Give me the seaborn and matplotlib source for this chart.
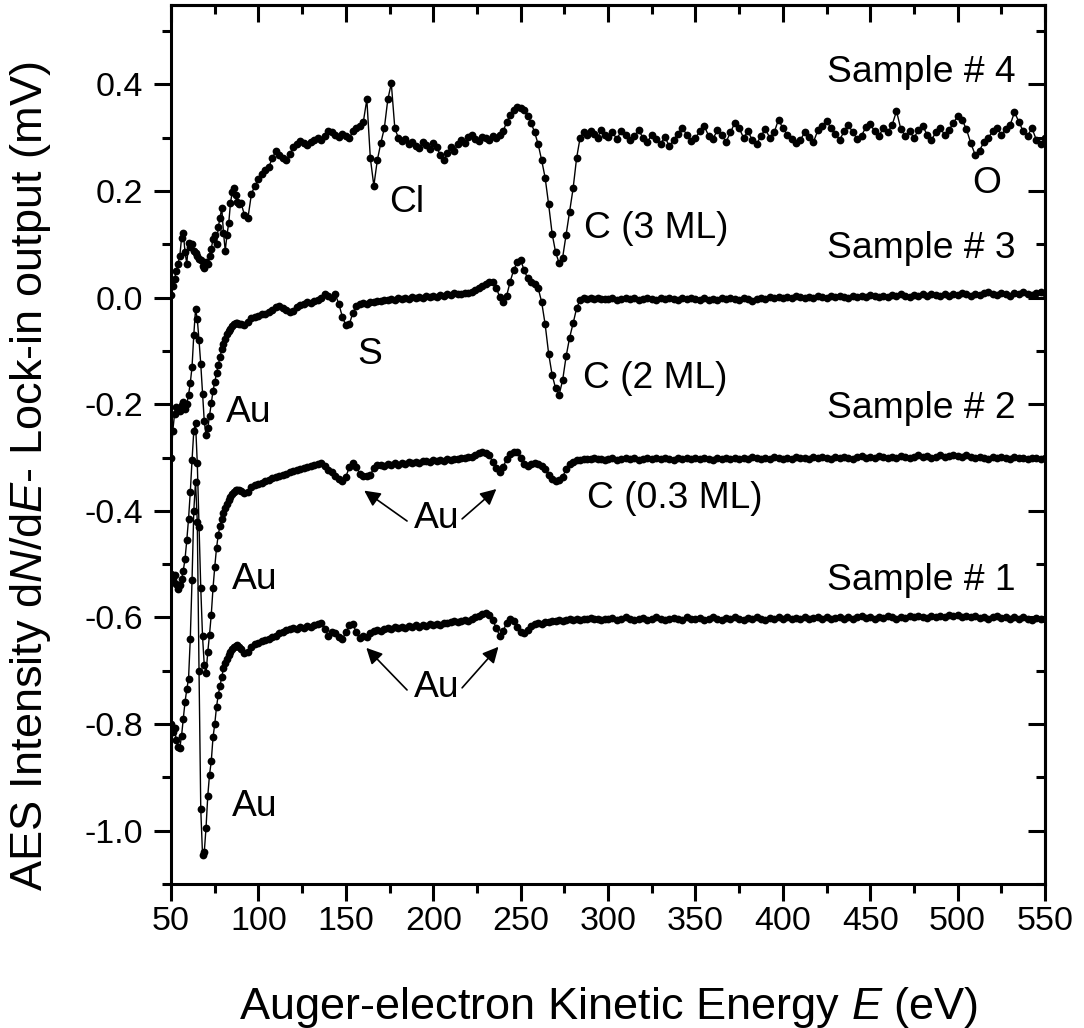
import matplotlib
matplotlib.use('Agg')

import numpy as np
import matplotlib.pyplot as plt
import seaborn as sns
from matplotlib.ticker import MultipleLocator, FormatStrFormatter

# energy grid of the four AES spectra (eV): 1 eV steps below 90, 2 eV to 300, 2.5 eV to 550
energy = np.concatenate([np.arange(50, 90, 1.0), np.arange(90, 300, 2.0), np.arange(300, 550.1, 2.5)])

sample1 = [
    # 50 - 89
    -0.800, -0.815, -0.808, -0.830, -0.843, -0.845, -0.822, -0.790, -0.758, -0.735,
    -0.715, -0.640, -0.530, -0.400, -0.345, -0.420, -0.700, -0.960, -1.045, -1.040,
    -0.995, -0.935, -0.895, -0.870, -0.825, -0.800, -0.768, -0.745, -0.728, -0.712,
    -0.695, -0.686, -0.678, -0.670, -0.665, -0.660, -0.656, -0.653, -0.652, -0.656,
    # 90 - 298
    -0.660, -0.667, -0.665, -0.655, -0.650, -0.648, -0.645, -0.642, -0.640, -0.636,
    -0.634, -0.630, -0.628, -0.624, -0.622, -0.620, -0.622, -0.618, -0.620, -0.616,
    -0.617, -0.614, -0.612, -0.610, -0.622, -0.634, -0.628, -0.630, -0.636, -0.640,
    -0.628, -0.615, -0.612, -0.628, -0.638, -0.634, -0.637, -0.630, -0.626, -0.624,
    -0.625, -0.622, -0.620, -0.621, -0.618, -0.620, -0.617, -0.619, -0.616, -0.618,
    -0.615, -0.617, -0.614, -0.616, -0.613, -0.615, -0.612, -0.614, -0.611, -0.610,
    -0.608, -0.607, -0.609, -0.606, -0.605, -0.607, -0.603, -0.600, -0.598, -0.594,
    -0.592, -0.596, -0.604, -0.620, -0.634, -0.625, -0.610, -0.602, -0.606, -0.618,
    -0.628, -0.630, -0.624, -0.616, -0.612, -0.610, -0.612, -0.609, -0.608, -0.606,
    -0.607, -0.605, -0.606, -0.604, -0.603, -0.604, -0.602, -0.604, -0.602, -0.603,
    -0.601, -0.603, -0.602, -0.604, -0.602,
    # 300 - 550
    -0.603, -0.601, -0.604, -0.602, -0.600, -0.603, -0.605, -0.602, -0.601, -0.604,
    -0.603, -0.600, -0.602, -0.605, -0.603, -0.601, -0.602, -0.604, -0.600, -0.602,
    -0.603, -0.601, -0.604, -0.602, -0.600, -0.602, -0.604, -0.601, -0.603, -0.600,
    -0.602, -0.604, -0.601, -0.603, -0.600, -0.602, -0.604, -0.601, -0.603, -0.600,
    -0.602, -0.599, -0.603, -0.601, -0.602, -0.600, -0.603, -0.601, -0.599, -0.602,
    -0.600, -0.603, -0.601, -0.599, -0.602, -0.600, -0.603, -0.600, -0.598, -0.601,
    -0.600, -0.602, -0.599, -0.601, -0.598, -0.600, -0.602, -0.599, -0.601, -0.598,
    -0.600, -0.597, -0.599, -0.601, -0.598, -0.600, -0.597, -0.599, -0.596, -0.598,
    -0.596, -0.599, -0.597, -0.600, -0.598, -0.601, -0.599, -0.602, -0.600, -0.598,
    -0.601, -0.599, -0.602, -0.600, -0.603, -0.600, -0.602, -0.604, -0.601, -0.603,
    -0.602,
]

sample2 = [
    # 50 - 89
    -0.518, -0.530, -0.520, -0.538, -0.546, -0.540, -0.528, -0.512, -0.490, -0.455,
    -0.415, -0.365, -0.305, -0.250, -0.235, -0.310, -0.430, -0.545, -0.635, -0.690,
    -0.705, -0.665, -0.632, -0.595, -0.545, -0.505, -0.470, -0.445, -0.428, -0.415,
    -0.404, -0.395, -0.388, -0.380, -0.374, -0.368, -0.364, -0.361, -0.360, -0.361,
    # 90 - 298
    -0.362, -0.366, -0.364, -0.356, -0.352, -0.350, -0.347, -0.344, -0.342, -0.339,
    -0.337, -0.334, -0.332, -0.330, -0.328, -0.326, -0.323, -0.321, -0.320, -0.318,
    -0.316, -0.314, -0.312, -0.310, -0.316, -0.324, -0.328, -0.334, -0.340, -0.344,
    -0.336, -0.318, -0.311, -0.318, -0.330, -0.334, -0.334, -0.332, -0.320, -0.314,
    -0.313, -0.315, -0.312, -0.314, -0.311, -0.313, -0.310, -0.312, -0.309, -0.311,
    -0.308, -0.310, -0.307, -0.306, -0.308, -0.305, -0.307, -0.304, -0.306, -0.303,
    -0.305, -0.302, -0.303, -0.300, -0.301, -0.298, -0.299, -0.295, -0.292, -0.290,
    -0.292, -0.296, -0.308, -0.320, -0.328, -0.318, -0.302, -0.294, -0.290, -0.290,
    -0.300, -0.312, -0.316, -0.312, -0.310, -0.312, -0.316, -0.322, -0.332, -0.340,
    -0.344, -0.342, -0.336, -0.322, -0.312, -0.308, -0.305, -0.304, -0.303, -0.302,
    -0.303, -0.301, -0.303, -0.302, -0.304,
    # 300 - 550
    -0.303, -0.301, -0.304, -0.302, -0.300, -0.303, -0.301, -0.304, -0.302, -0.300,
    -0.303, -0.301, -0.303, -0.300, -0.302, -0.304, -0.301, -0.303, -0.300, -0.302,
    -0.301, -0.303, -0.300, -0.302, -0.304, -0.301, -0.303, -0.300, -0.302, -0.301,
    -0.303, -0.300, -0.302, -0.299, -0.301, -0.303, -0.300, -0.302, -0.299, -0.301,
    -0.303, -0.300, -0.302, -0.299, -0.301, -0.300, -0.302, -0.299, -0.301, -0.298,
    -0.300, -0.302, -0.299, -0.301, -0.298, -0.300, -0.302, -0.299, -0.297, -0.300,
    -0.298, -0.300, -0.297, -0.299, -0.301, -0.298, -0.300, -0.297, -0.299, -0.301,
    -0.298, -0.296, -0.299, -0.297, -0.300, -0.298, -0.296, -0.299, -0.297, -0.295,
    -0.297, -0.299, -0.296, -0.298, -0.300, -0.298, -0.300, -0.302, -0.299, -0.301,
    -0.298, -0.300, -0.302, -0.299, -0.301, -0.300, -0.302, -0.300, -0.301, -0.303,
    -0.301,
]

sample3 = [
    # 50 - 89
    -0.300, -0.250, -0.218, -0.205, -0.208, -0.212, -0.202, -0.196, -0.208, -0.200,
    -0.182, -0.160, -0.130, -0.070, -0.022, -0.040, -0.080, -0.125, -0.180, -0.232,
    -0.258, -0.245, -0.222, -0.198, -0.175, -0.158, -0.142, -0.126, -0.112, -0.097,
    -0.086, -0.077, -0.069, -0.063, -0.058, -0.053, -0.049, -0.047, -0.048, -0.050,
    # 90 - 298
    -0.050, -0.052, -0.045, -0.038, -0.036, -0.034, -0.031, -0.030, -0.027, -0.024,
    -0.018, -0.016, -0.020, -0.024, -0.027, -0.025, -0.018, -0.014, -0.012, -0.009,
    -0.010, -0.006, -0.004, 0.000, 0.006, 0.004, 0.000, 0.006, -0.012, -0.036,
    -0.052, -0.050, -0.028, -0.016, -0.012, -0.010, -0.011, -0.008, -0.009, -0.006,
    -0.007, -0.004, -0.005, -0.002, -0.004, -0.001, -0.003, 0.000, -0.002, 0.001,
    -0.001, 0.002, 0.000, 0.003, 0.002, 0.004, 0.002, 0.005, 0.003, 0.006,
    0.005, 0.008, 0.007, 0.006, 0.009, 0.008, 0.010, 0.014, 0.018, 0.022,
    0.026, 0.030, 0.030, 0.018, 0.002, -0.008, 0.004, 0.030, 0.052, 0.066,
    0.070, 0.052, 0.036, 0.030, 0.026, 0.018, -0.008, -0.050, -0.105, -0.145,
    -0.170, -0.182, -0.155, -0.110, -0.075, -0.048, -0.020, -0.004, 0.000, -0.002,
    0.000, -0.003, -0.001, -0.003, -0.002,
    # 300 - 550
    -0.003, -0.001, -0.004, -0.002, 0.000, -0.003, -0.001, -0.004, -0.002, 0.000,
    -0.002, -0.004, -0.001, -0.003, 0.000, -0.002, -0.004, -0.001, -0.003, 0.000,
    -0.002, -0.004, -0.001, -0.005, -0.002, -0.004, -0.001, -0.003, 0.000, -0.002,
    -0.004, -0.001, -0.003, -0.006, -0.002, 0.000, -0.002, 0.001, -0.001, 0.002,
    0.000, 0.002, -0.001, 0.003, 0.001, -0.001, 0.002, 0.000, 0.003, 0.001,
    0.000, 0.003, 0.001, 0.004, 0.002, 0.000, 0.003, 0.001, 0.004, 0.002,
    0.005, 0.003, 0.001, 0.004, 0.002, 0.005, 0.003, 0.006, 0.004, 0.002,
    0.005, 0.003, 0.006, 0.004, 0.007, 0.005, 0.003, 0.006, 0.004, 0.007,
    0.005, 0.008, 0.006, 0.004, 0.007, 0.005, 0.008, 0.010, 0.007, 0.005,
    0.009, 0.006, 0.004, 0.008, 0.006, 0.010, 0.007, 0.005, 0.009, 0.011,
    0.008,
]

sample4 = [
    # 50 - 89
    0.005, 0.022, 0.035, 0.050, 0.064, 0.078, 0.112, 0.122, 0.085, 0.064,
    0.102, 0.096, 0.100, 0.088, 0.084, 0.078, 0.072, 0.070, 0.060, 0.056,
    0.066, 0.064, 0.078, 0.092, 0.110, 0.118, 0.100, 0.132, 0.150, 0.168,
    0.122, 0.088, 0.118, 0.140, 0.178, 0.198, 0.205, 0.192, 0.180, 0.176,
    # 90 - 298
    0.178, 0.155, 0.150, 0.195, 0.210, 0.222, 0.232, 0.240, 0.246, 0.262,
    0.276, 0.268, 0.262, 0.258, 0.270, 0.282, 0.288, 0.294, 0.290, 0.286,
    0.292, 0.295, 0.300, 0.296, 0.304, 0.312, 0.310, 0.306, 0.302, 0.308,
    0.304, 0.300, 0.312, 0.318, 0.322, 0.330, 0.372, 0.262, 0.210, 0.258,
    0.290, 0.318, 0.372, 0.402, 0.318, 0.300, 0.294, 0.298, 0.288, 0.292,
    0.284, 0.280, 0.292, 0.286, 0.278, 0.290, 0.282, 0.268, 0.258, 0.272,
    0.282, 0.276, 0.288, 0.296, 0.290, 0.302, 0.306, 0.298, 0.294, 0.302,
    0.300, 0.296, 0.304, 0.300, 0.306, 0.312, 0.330, 0.342, 0.352, 0.358,
    0.356, 0.352, 0.340, 0.328, 0.310, 0.288, 0.258, 0.225, 0.175, 0.120,
    0.085, 0.065, 0.075, 0.118, 0.160, 0.205, 0.262, 0.300, 0.310, 0.305,
    0.312, 0.308, 0.300, 0.314, 0.306,
    # 300 - 550
    0.302, 0.310, 0.298, 0.312, 0.306, 0.296, 0.304, 0.314, 0.300, 0.292,
    0.306, 0.298, 0.288, 0.302, 0.284, 0.296, 0.308, 0.318, 0.306, 0.294,
    0.300, 0.312, 0.322, 0.304, 0.298, 0.314, 0.306, 0.292, 0.310, 0.328,
    0.318, 0.300, 0.312, 0.296, 0.288, 0.304, 0.316, 0.300, 0.310, 0.334,
    0.318, 0.306, 0.298, 0.290, 0.296, 0.310, 0.302, 0.292, 0.314, 0.322,
    0.332, 0.318, 0.308, 0.296, 0.312, 0.324, 0.310, 0.298, 0.304, 0.320,
    0.326, 0.312, 0.304, 0.318, 0.310, 0.324, 0.350, 0.316, 0.304, 0.312,
    0.300, 0.314, 0.322, 0.306, 0.296, 0.310, 0.318, 0.306, 0.314, 0.328,
    0.340, 0.334, 0.316, 0.290, 0.268, 0.276, 0.292, 0.300, 0.312, 0.318,
    0.306, 0.316, 0.324, 0.348, 0.330, 0.312, 0.304, 0.318, 0.296, 0.288,
    0.300,
]

series = [sample1, sample2, sample3, sample4]
sample_names = ['Sample # 1', 'Sample # 2', 'Sample # 3', 'Sample # 4']
sample_label_y = [-0.531, -0.208, 0.092, 0.422]

sns.set_theme(style='ticks')
plt.rcParams['font.family'] = ['Liberation Sans', 'DejaVu Sans']
plt.rcParams['mathtext.fontset'] = 'custom'
plt.rcParams['mathtext.rm'] = 'Liberation Sans'
plt.rcParams['mathtext.it'] = 'Liberation Sans:italic'
plt.rcParams['axes.unicode_minus'] = False
plt.rcParams['text.color'] = 'black'
plt.rcParams['axes.labelcolor'] = 'black'
plt.rcParams['xtick.color'] = 'black'
plt.rcParams['ytick.color'] = 'black'

fig = plt.figure(figsize=(10.84, 10.28), dpi=100)
ax = fig.add_axes([0.1578, 0.1401, 0.8063, 0.8555])

for ys in series:
    assert len(ys) == len(energy)
    sns.lineplot(x=energy, y=ys, ax=ax, color='black', linewidth=1.0, marker='o',
                 markersize=5.6, markeredgewidth=0, estimator=None, sort=False)

ax.set_xlim(50, 550)
ax.set_ylim(-1.1, 0.55)

ax.xaxis.set_major_locator(MultipleLocator(50))
ax.xaxis.set_minor_locator(MultipleLocator(25))
ax.yaxis.set_major_locator(MultipleLocator(0.2))
ax.yaxis.set_minor_locator(MultipleLocator(0.1))
ax.yaxis.set_major_formatter(FormatStrFormatter('%.1f'))

ax.tick_params(which='major', direction='out', length=12, width=2.2, labelsize=24.5,
               colors='black', labelcolor='black')
ax.tick_params(which='minor', direction='out', length=6.5, width=2.2)
ax.tick_params(axis='x', pad=4)
ax.tick_params(axis='y', pad=8)
for s in ax.spines.values():
    s.set_linewidth(2.2)
    s.set_color('black')
    s.set_visible(True)

# mirrored ticks on top and right point inward
top = ax.secondary_xaxis('top')
top.xaxis.set_major_locator(MultipleLocator(50))
top.xaxis.set_minor_locator(MultipleLocator(25))
top.tick_params(which='major', direction='in', length=12, width=2.2, labeltop=False)
top.tick_params(which='minor', direction='in', length=6.5, width=2.2)
top.spines['top'].set_linewidth(2.2)
right = ax.secondary_yaxis('right')
right.yaxis.set_major_locator(MultipleLocator(0.2))
right.yaxis.set_minor_locator(MultipleLocator(0.1))
right.tick_params(which='major', direction='in', length=12, width=2.2, labelright=False)
right.tick_params(which='minor', direction='in', length=6.5, width=2.2)
right.spines['right'].set_linewidth(2.2)

ax.set_xlabel('Auger-electron Kinetic Energy $E$ (eV)', fontsize=32.5, color='black')
ax.set_ylabel('AES Intensity d$N$/d$E$- Lock-in output (mV)', fontsize=32.5, color='black')
ax.xaxis.set_label_coords(0.5, -0.115)
ax.yaxis.set_label_coords(-0.135, 0.463)

fs = 26.8
for name, yy in zip(sample_names, sample_label_y):
    ax.text(533, yy, name, fontsize=fs, ha='right', va='center', color='black')

ax.text(184.6, 0.178, 'Cl', fontsize=fs, ha='center', va='center', color='black')
ax.text(516.8, 0.214, 'O', fontsize=fs, ha='center', va='center', color='black')
ax.text(286.5, 0.130, 'C (3 ML)', fontsize=fs, ha='left', va='center', color='black')
ax.text(163.4, -0.107, 'S', fontsize=fs, ha='center', va='center', color='black')
ax.text(285.4, -0.152, 'C (2 ML)', fontsize=fs, ha='left', va='center', color='black')
ax.text(81.5, -0.216, 'Au', fontsize=fs, ha='left', va='center', color='black')
ax.text(287.7, -0.376, 'C (0.3 ML)', fontsize=fs, ha='left', va='center', color='black')
ax.text(85.0, -0.528, 'Au', fontsize=fs, ha='left', va='center', color='black')
ax.text(85.0, -0.954, 'Au', fontsize=fs, ha='left', va='center', color='black')

# Au labels with arrows pointing to the weak Au features
for ty, heads in [(-0.415, [(160.5, -0.362), (236.1, -0.359)]),
                  (-0.732, [(161.7, -0.657), (237.3, -0.655)])]:
    ax.text(201.8, ty, 'Au', fontsize=fs, ha='center', va='center', color='black')
    tails = [(185.0, ty - 0.004), (216.5, ty)]
    for tail, head in zip(tails, heads):
        ax.annotate('', xy=head, xytext=tail,
                    arrowprops=dict(arrowstyle='-|>', color='black', lw=1.2,
                                    mutation_scale=24, shrinkA=0, shrinkB=0))

fig.savefig('out.png', dpi=100)
